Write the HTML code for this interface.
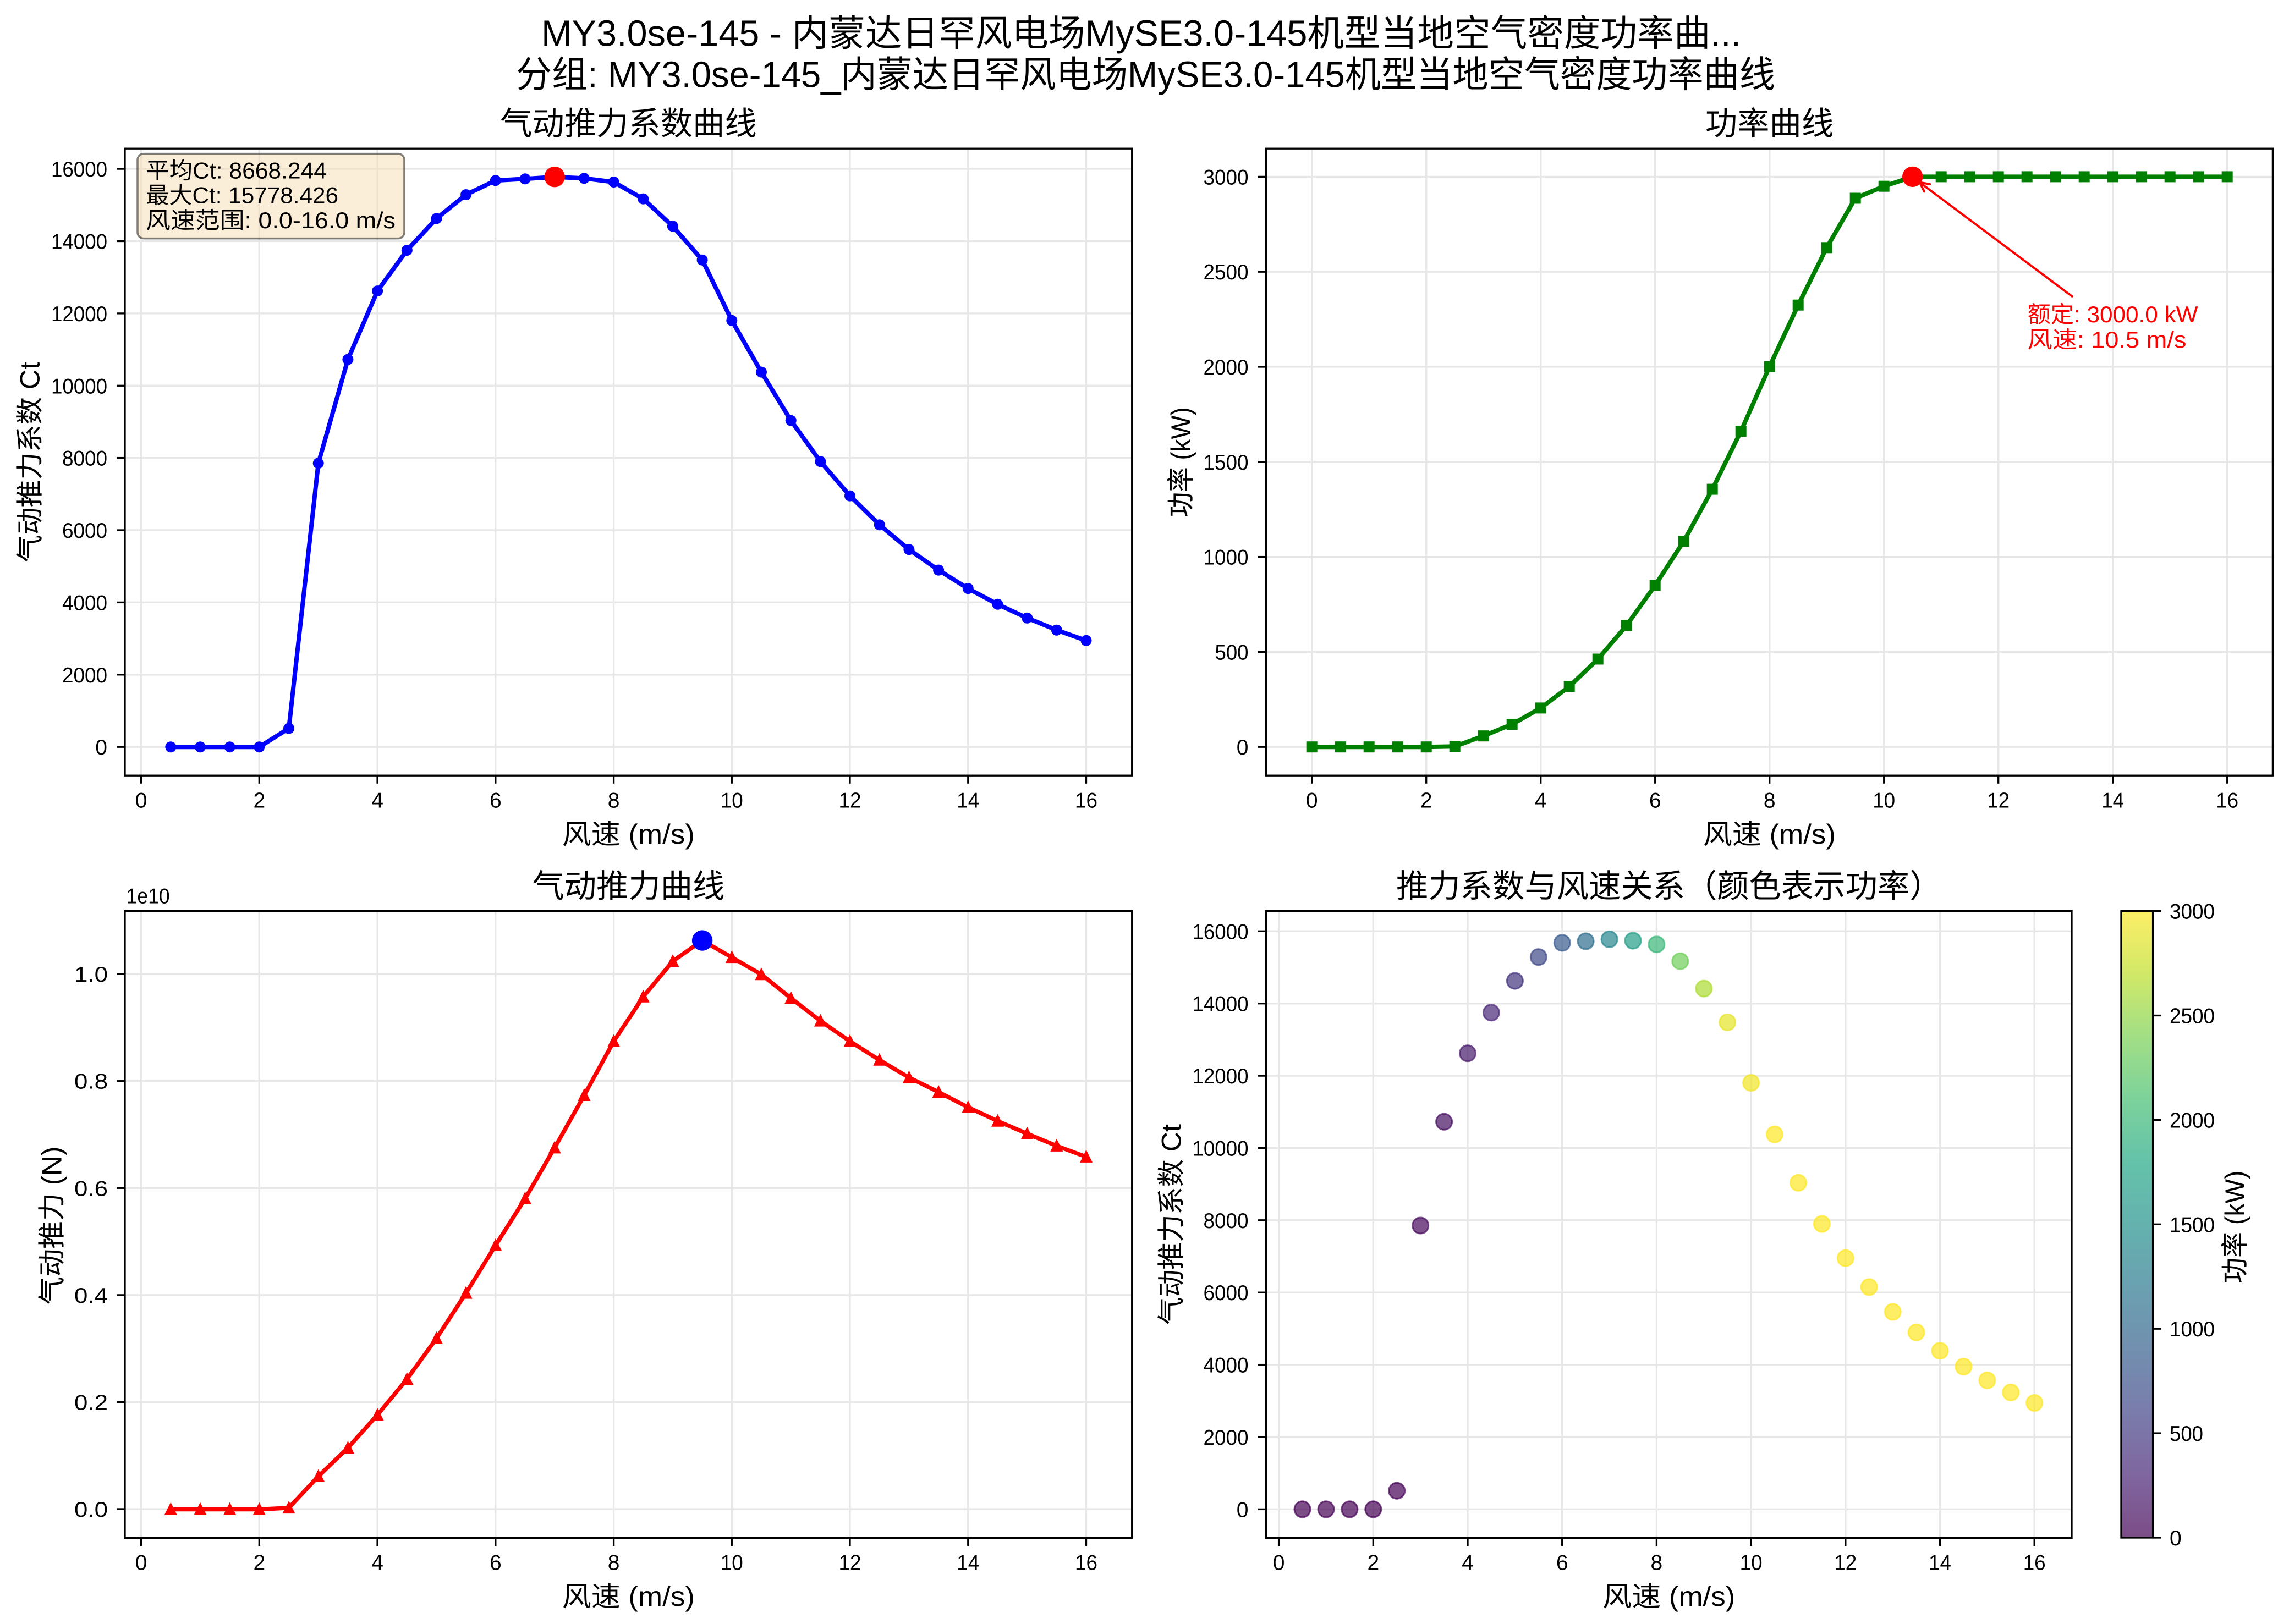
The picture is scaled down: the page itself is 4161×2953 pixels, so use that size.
<!DOCTYPE html>
<html><head><meta charset="utf-8">
<style>
html,body{margin:0;padding:0;background:#fff;}
svg{display:block;}
text{font-family:"Liberation Sans","WenQuanYi Zen Hei","Noto Sans CJK SC",sans-serif;fill:#000;}
.tk{font-size:39px;}
.lab{font-size:50px;}
.ttl{font-size:58.33px;}
.grid line{stroke:#e7e7e7;stroke-width:3.3;}
.tick line{stroke:#000;stroke-width:3.3;}
.spine{fill:none;stroke:#000;stroke-width:3.3;}
</style></head>
<body>
<svg xmlns="http://www.w3.org/2000/svg" xmlns:xlink="http://www.w3.org/1999/xlink" width="4161" height="2953" viewBox="0 0 4161 2953">
<defs>
<linearGradient id="vir" x1="0" y1="0" x2="0" y2="1">
<stop offset="0" stop-color="#fde725" stop-opacity="0.7"/>
<stop offset="0.1" stop-color="#bddf26" stop-opacity="0.7"/>
<stop offset="0.2" stop-color="#7ad151" stop-opacity="0.7"/>
<stop offset="0.3" stop-color="#44bf70" stop-opacity="0.7"/>
<stop offset="0.4" stop-color="#22a884" stop-opacity="0.7"/>
<stop offset="0.5" stop-color="#21918c" stop-opacity="0.7"/>
<stop offset="0.6" stop-color="#2a788e" stop-opacity="0.7"/>
<stop offset="0.7" stop-color="#355f8d" stop-opacity="0.7"/>
<stop offset="0.8" stop-color="#414487" stop-opacity="0.7"/>
<stop offset="0.9" stop-color="#482475" stop-opacity="0.7"/>
<stop offset="1" stop-color="#440154" stop-opacity="0.7"/>
</linearGradient>
<polygon id="tri" points="0,-8.3 -8.3,8.3 8.3,8.3" fill="#ff0000" stroke="#ff0000" stroke-width="4" stroke-linejoin="miter"/>
<rect id="sq" x="-10" y="-10" width="20" height="20" fill="#008000"/>
<circle id="bc" r="10" fill="#0000ff"/>
</defs>
<rect width="4161" height="2953" fill="#fff"/>

<!-- Suptitle -->
<text x="2074.5" y="83.3" font-size="66.67" text-anchor="middle" textLength="2181" lengthAdjust="spacingAndGlyphs">MY3.0se-145 - 内蒙达日罕风电场MySE3.0-145机型当地空气密度功率曲...</text>
<text x="2082.5" y="158.3" font-size="66.67" text-anchor="middle" textLength="2289" lengthAdjust="spacingAndGlyphs">分组: MY3.0se-145_内蒙达日罕风电场MySE3.0-145机型当地空气密度功率曲线</text>

<!-- ================= TOP LEFT ================= -->
<text class="ttl" x="1142.4" y="245" text-anchor="middle">气动推力系数曲线</text>
<g class="grid">
<line x1="256.6" y1="270.2" x2="256.6" y2="1410.2"/><line x1="471.3" y1="270.2" x2="471.3" y2="1410.2"/><line x1="686.1" y1="270.2" x2="686.1" y2="1410.2"/><line x1="900.8" y1="270.2" x2="900.8" y2="1410.2"/><line x1="1115.6" y1="270.2" x2="1115.6" y2="1410.2"/><line x1="1330.3" y1="270.2" x2="1330.3" y2="1410.2"/><line x1="1545" y1="270.2" x2="1545" y2="1410.2"/><line x1="1759.8" y1="270.2" x2="1759.8" y2="1410.2"/><line x1="1974.5" y1="270.2" x2="1974.5" y2="1410.2"/>
<line x1="227" y1="1358.2" x2="2057.7" y2="1358.2"/><line x1="227" y1="1226.8" x2="2057.7" y2="1226.8"/><line x1="227" y1="1095.4" x2="2057.7" y2="1095.4"/><line x1="227" y1="964" x2="2057.7" y2="964"/><line x1="227" y1="832.6" x2="2057.7" y2="832.6"/><line x1="227" y1="701.3" x2="2057.7" y2="701.3"/><line x1="227" y1="569.9" x2="2057.7" y2="569.9"/><line x1="227" y1="438.5" x2="2057.7" y2="438.5"/><line x1="227" y1="307.1" x2="2057.7" y2="307.1"/>
</g>
<polyline fill="none" stroke="#0000ff" stroke-width="8" stroke-linejoin="round" points="310.3,1358.2 364.0,1358.2 417.7,1358.2 471.3,1358.2 525.0,1324.5 578.7,842.3 632.4,653.6 686.1,529.1 739.8,455.1 793.5,397.4 847.1,354.0 900.8,328.2 954.5,325.3 1008.2,321.7 1061.9,324.3 1115.6,331.0 1169.2,361.6 1222.9,411.4 1276.6,472.7 1330.3,582.8 1384.0,676.6 1437.7,764.6 1491.4,839.3 1545.0,901.6 1598.7,954.2 1652.4,999.2 1706.1,1036.6 1759.8,1070.1 1813.5,1098.8 1867.2,1123.7 1920.8,1145.7 1974.5,1164.8"/>
<g>
<use xlink:href="#bc" x="310.3" y="1358.2"/><use xlink:href="#bc" x="364.0" y="1358.2"/><use xlink:href="#bc" x="417.7" y="1358.2"/><use xlink:href="#bc" x="471.3" y="1358.2"/><use xlink:href="#bc" x="525.0" y="1324.5"/><use xlink:href="#bc" x="578.7" y="842.3"/><use xlink:href="#bc" x="632.4" y="653.6"/><use xlink:href="#bc" x="686.1" y="529.1"/><use xlink:href="#bc" x="739.8" y="455.1"/><use xlink:href="#bc" x="793.5" y="397.4"/><use xlink:href="#bc" x="847.1" y="354.0"/><use xlink:href="#bc" x="900.8" y="328.2"/><use xlink:href="#bc" x="954.5" y="325.3"/><use xlink:href="#bc" x="1008.2" y="321.7"/><use xlink:href="#bc" x="1061.9" y="324.3"/><use xlink:href="#bc" x="1115.6" y="331.0"/><use xlink:href="#bc" x="1169.2" y="361.6"/><use xlink:href="#bc" x="1222.9" y="411.4"/><use xlink:href="#bc" x="1276.6" y="472.7"/><use xlink:href="#bc" x="1330.3" y="582.8"/><use xlink:href="#bc" x="1384.0" y="676.6"/><use xlink:href="#bc" x="1437.7" y="764.6"/><use xlink:href="#bc" x="1491.4" y="839.3"/><use xlink:href="#bc" x="1545.0" y="901.6"/><use xlink:href="#bc" x="1598.7" y="954.2"/><use xlink:href="#bc" x="1652.4" y="999.2"/><use xlink:href="#bc" x="1706.1" y="1036.6"/><use xlink:href="#bc" x="1759.8" y="1070.1"/><use xlink:href="#bc" x="1813.5" y="1098.8"/><use xlink:href="#bc" x="1867.2" y="1123.7"/><use xlink:href="#bc" x="1920.8" y="1145.7"/><use xlink:href="#bc" x="1974.5" y="1164.8"/>
</g>
<circle cx="1008.2" cy="321.7" r="18.7" fill="#ff0000"/>
<!-- text box -->
<rect x="250" y="279.6" width="485" height="154" rx="11" ry="11" fill="#f5deb3" fill-opacity="0.5" stroke="#000" stroke-opacity="0.5" stroke-width="3.5"/>
<text x="265" y="324.5" font-size="41.67" textLength="329" lengthAdjust="spacingAndGlyphs">平均Ct: 8668.244</text>
<text x="265" y="369.5" font-size="41.67" textLength="350" lengthAdjust="spacingAndGlyphs">最大Ct: 15778.426</text>
<text x="265" y="415" font-size="41.67" textLength="454" lengthAdjust="spacingAndGlyphs">风速范围: 0.0-16.0 m/s</text>
<rect class="spine" x="227" y="270.2" width="1830.7" height="1140"/>
<g class="tick">
<line x1="256.6" y1="1410.2" x2="256.6" y2="1424.8"/><line x1="471.3" y1="1410.2" x2="471.3" y2="1424.8"/><line x1="686.1" y1="1410.2" x2="686.1" y2="1424.8"/><line x1="900.8" y1="1410.2" x2="900.8" y2="1424.8"/><line x1="1115.6" y1="1410.2" x2="1115.6" y2="1424.8"/><line x1="1330.3" y1="1410.2" x2="1330.3" y2="1424.8"/><line x1="1545" y1="1410.2" x2="1545" y2="1424.8"/><line x1="1759.8" y1="1410.2" x2="1759.8" y2="1424.8"/><line x1="1974.5" y1="1410.2" x2="1974.5" y2="1424.8"/>
<line x1="212.4" y1="1358.2" x2="227" y2="1358.2"/><line x1="212.4" y1="1226.8" x2="227" y2="1226.8"/><line x1="212.4" y1="1095.4" x2="227" y2="1095.4"/><line x1="212.4" y1="964" x2="227" y2="964"/><line x1="212.4" y1="832.6" x2="227" y2="832.6"/><line x1="212.4" y1="701.3" x2="227" y2="701.3"/><line x1="212.4" y1="569.9" x2="227" y2="569.9"/><line x1="212.4" y1="438.5" x2="227" y2="438.5"/><line x1="212.4" y1="307.1" x2="227" y2="307.1"/>
</g>
<g class="tk" text-anchor="middle">
<text x="256.6" y="1468.5">0</text><text x="471.3" y="1468.5">2</text><text x="686.1" y="1468.5">4</text><text x="900.8" y="1468.5">6</text><text x="1115.6" y="1468.5">8</text><text x="1330.3" y="1468.5" textLength="41" lengthAdjust="spacingAndGlyphs">10</text><text x="1545" y="1468.5" textLength="41" lengthAdjust="spacingAndGlyphs">12</text><text x="1759.8" y="1468.5" textLength="41" lengthAdjust="spacingAndGlyphs">14</text><text x="1974.5" y="1468.5" textLength="41" lengthAdjust="spacingAndGlyphs">16</text>
</g>
<g class="tk" text-anchor="end">
<text x="195" y="1372.2">0</text><text x="195" y="1240.8" textLength="82" lengthAdjust="spacingAndGlyphs">2000</text><text x="195" y="1109.4" textLength="82" lengthAdjust="spacingAndGlyphs">4000</text><text x="195" y="978" textLength="82" lengthAdjust="spacingAndGlyphs">6000</text><text x="195" y="846.6" textLength="82" lengthAdjust="spacingAndGlyphs">8000</text><text x="195" y="715.3" textLength="102" lengthAdjust="spacingAndGlyphs">10000</text><text x="195" y="583.9" textLength="102" lengthAdjust="spacingAndGlyphs">12000</text><text x="195" y="452.5" textLength="102" lengthAdjust="spacingAndGlyphs">14000</text><text x="195" y="321.1" textLength="102" lengthAdjust="spacingAndGlyphs">16000</text>
</g>
<text class="lab" x="1142.4" y="1534" text-anchor="middle" textLength="241" lengthAdjust="spacingAndGlyphs">风速 (m/s)</text>
<text class="lab" transform="translate(71.4,840.3) rotate(-90)" text-anchor="middle" textLength="365" lengthAdjust="spacingAndGlyphs">气动推力系数 Ct</text>

<!-- ================= TOP RIGHT ================= -->
<text class="ttl" x="3216.5" y="245" text-anchor="middle">功率曲线</text>
<g class="grid">
<line x1="2384.7" y1="270.2" x2="2384.7" y2="1410.2"/><line x1="2592.7" y1="270.2" x2="2592.7" y2="1410.2"/><line x1="2800.7" y1="270.2" x2="2800.7" y2="1410.2"/><line x1="3008.7" y1="270.2" x2="3008.7" y2="1410.2"/><line x1="3216.7" y1="270.2" x2="3216.7" y2="1410.2"/><line x1="3424.7" y1="270.2" x2="3424.7" y2="1410.2"/><line x1="3632.7" y1="270.2" x2="3632.7" y2="1410.2"/><line x1="3840.7" y1="270.2" x2="3840.7" y2="1410.2"/><line x1="4048.7" y1="270.2" x2="4048.7" y2="1410.2"/>
<line x1="2301.5" y1="1358.2" x2="4131.4" y2="1358.2"/><line x1="2301.5" y1="1185.4" x2="4131.4" y2="1185.4"/><line x1="2301.5" y1="1012.6" x2="4131.4" y2="1012.6"/><line x1="2301.5" y1="839.8" x2="4131.4" y2="839.8"/><line x1="2301.5" y1="667" x2="4131.4" y2="667"/><line x1="2301.5" y1="494.2" x2="4131.4" y2="494.2"/><line x1="2301.5" y1="321.4" x2="4131.4" y2="321.4"/>
</g>
<polyline fill="none" stroke="#008000" stroke-width="8" stroke-linejoin="round" points="2384.7,1358.2 2436.7,1358.2 2488.7,1358.2 2540.7,1358.2 2592.7,1358.2 2644.7,1357.2 2696.7,1338.2 2748.7,1317.1 2800.7,1287.4 2852.7,1248.3 2904.7,1198.5 2956.7,1137.4 3008.7,1064.4 3060.7,984.3 3112.7,889.6 3164.7,784.2 3216.7,666.6 3268.7,554.7 3320.7,450.3 3372.7,360.5 3424.7,338.7 3476.7,321.4 3528.7,321.4 3580.7,321.4 3632.7,321.4 3684.7,321.4 3736.7,321.4 3788.7,321.4 3840.7,321.4 3892.7,321.4 3944.7,321.4 3996.7,321.4 4048.7,321.4"/>
<g>
<use xlink:href="#sq" x="2384.7" y="1358.2"/><use xlink:href="#sq" x="2436.7" y="1358.2"/><use xlink:href="#sq" x="2488.7" y="1358.2"/><use xlink:href="#sq" x="2540.7" y="1358.2"/><use xlink:href="#sq" x="2592.7" y="1358.2"/><use xlink:href="#sq" x="2644.7" y="1357.2"/><use xlink:href="#sq" x="2696.7" y="1338.2"/><use xlink:href="#sq" x="2748.7" y="1317.1"/><use xlink:href="#sq" x="2800.7" y="1287.4"/><use xlink:href="#sq" x="2852.7" y="1248.3"/><use xlink:href="#sq" x="2904.7" y="1198.5"/><use xlink:href="#sq" x="2956.7" y="1137.4"/><use xlink:href="#sq" x="3008.7" y="1064.4"/><use xlink:href="#sq" x="3060.7" y="984.3"/><use xlink:href="#sq" x="3112.7" y="889.6"/><use xlink:href="#sq" x="3164.7" y="784.2"/><use xlink:href="#sq" x="3216.7" y="666.6"/><use xlink:href="#sq" x="3268.7" y="554.7"/><use xlink:href="#sq" x="3320.7" y="450.3"/><use xlink:href="#sq" x="3372.7" y="360.5"/><use xlink:href="#sq" x="3424.7" y="338.7"/><use xlink:href="#sq" x="3476.7" y="321.4"/><use xlink:href="#sq" x="3528.7" y="321.4"/><use xlink:href="#sq" x="3580.7" y="321.4"/><use xlink:href="#sq" x="3632.7" y="321.4"/><use xlink:href="#sq" x="3684.7" y="321.4"/><use xlink:href="#sq" x="3736.7" y="321.4"/><use xlink:href="#sq" x="3788.7" y="321.4"/><use xlink:href="#sq" x="3840.7" y="321.4"/><use xlink:href="#sq" x="3892.7" y="321.4"/><use xlink:href="#sq" x="3944.7" y="321.4"/><use xlink:href="#sq" x="3996.7" y="321.4"/><use xlink:href="#sq" x="4048.7" y="321.4"/>
</g>
<circle cx="3476.7" cy="321.4" r="18.7" fill="#ff0000"/>
<!-- annotation -->
<g stroke="#ff0000" stroke-width="4" fill="none" stroke-linecap="round">
<line x1="3766.6" y1="538.8" x2="3489.6" y2="331.6"/>
<polyline points="3498,348.3 3489.6,331.6 3508,334.9"/>
</g>
<text x="3685.5" y="586.2" font-size="41.67" style="fill:#ff0000" textLength="310" lengthAdjust="spacingAndGlyphs">额定: 3000.0 kW</text>
<text x="3685.5" y="632.1" font-size="41.67" style="fill:#ff0000" textLength="289" lengthAdjust="spacingAndGlyphs">风速: 10.5 m/s</text>
<rect class="spine" x="2301.5" y="270.2" width="1829.9" height="1140"/>
<g class="tick">
<line x1="2384.7" y1="1410.2" x2="2384.7" y2="1424.8"/><line x1="2592.7" y1="1410.2" x2="2592.7" y2="1424.8"/><line x1="2800.7" y1="1410.2" x2="2800.7" y2="1424.8"/><line x1="3008.7" y1="1410.2" x2="3008.7" y2="1424.8"/><line x1="3216.7" y1="1410.2" x2="3216.7" y2="1424.8"/><line x1="3424.7" y1="1410.2" x2="3424.7" y2="1424.8"/><line x1="3632.7" y1="1410.2" x2="3632.7" y2="1424.8"/><line x1="3840.7" y1="1410.2" x2="3840.7" y2="1424.8"/><line x1="4048.7" y1="1410.2" x2="4048.7" y2="1424.8"/>
<line x1="2286.9" y1="1358.2" x2="2301.5" y2="1358.2"/><line x1="2286.9" y1="1185.4" x2="2301.5" y2="1185.4"/><line x1="2286.9" y1="1012.6" x2="2301.5" y2="1012.6"/><line x1="2286.9" y1="839.8" x2="2301.5" y2="839.8"/><line x1="2286.9" y1="667" x2="2301.5" y2="667"/><line x1="2286.9" y1="494.2" x2="2301.5" y2="494.2"/><line x1="2286.9" y1="321.4" x2="2301.5" y2="321.4"/>
</g>
<g class="tk" text-anchor="middle">
<text x="2384.7" y="1468.5">0</text><text x="2592.7" y="1468.5">2</text><text x="2800.7" y="1468.5">4</text><text x="3008.7" y="1468.5">6</text><text x="3216.7" y="1468.5">8</text><text x="3424.7" y="1468.5" textLength="41" lengthAdjust="spacingAndGlyphs">10</text><text x="3632.7" y="1468.5" textLength="41" lengthAdjust="spacingAndGlyphs">12</text><text x="3840.7" y="1468.5" textLength="41" lengthAdjust="spacingAndGlyphs">14</text><text x="4048.7" y="1468.5" textLength="41" lengthAdjust="spacingAndGlyphs">16</text>
</g>
<g class="tk" text-anchor="end">
<text x="2269.5" y="1372.2">0</text><text x="2269.5" y="1199.4" textLength="61" lengthAdjust="spacingAndGlyphs">500</text><text x="2269.5" y="1026.6" textLength="82" lengthAdjust="spacingAndGlyphs">1000</text><text x="2269.5" y="853.8" textLength="82" lengthAdjust="spacingAndGlyphs">1500</text><text x="2269.5" y="681" textLength="82" lengthAdjust="spacingAndGlyphs">2000</text><text x="2269.5" y="508.2" textLength="82" lengthAdjust="spacingAndGlyphs">2500</text><text x="2269.5" y="335.4" textLength="82" lengthAdjust="spacingAndGlyphs">3000</text>
</g>
<text class="lab" x="3216.5" y="1534" text-anchor="middle" textLength="241" lengthAdjust="spacingAndGlyphs">风速 (m/s)</text>
<text class="lab" transform="translate(2164,840.3) rotate(-90)" text-anchor="middle" textLength="200" lengthAdjust="spacingAndGlyphs">功率 (kW)</text>

<!-- ================= BOTTOM LEFT ================= -->
<text class="ttl" x="1142.4" y="1631.4" text-anchor="middle">气动推力曲线</text>
<g class="grid">
<line x1="256.6" y1="1656.6" x2="256.6" y2="2796.4"/><line x1="471.3" y1="1656.6" x2="471.3" y2="2796.4"/><line x1="686.1" y1="1656.6" x2="686.1" y2="2796.4"/><line x1="900.8" y1="1656.6" x2="900.8" y2="2796.4"/><line x1="1115.6" y1="1656.6" x2="1115.6" y2="2796.4"/><line x1="1330.3" y1="1656.6" x2="1330.3" y2="2796.4"/><line x1="1545" y1="1656.6" x2="1545" y2="2796.4"/><line x1="1759.8" y1="1656.6" x2="1759.8" y2="2796.4"/><line x1="1974.5" y1="1656.6" x2="1974.5" y2="2796.4"/>
<line x1="227" y1="2744" x2="2057.7" y2="2744"/><line x1="227" y1="2549.4" x2="2057.7" y2="2549.4"/><line x1="227" y1="2354.9" x2="2057.7" y2="2354.9"/><line x1="227" y1="2160.3" x2="2057.7" y2="2160.3"/><line x1="227" y1="1965.7" x2="2057.7" y2="1965.7"/><line x1="227" y1="1771.1" x2="2057.7" y2="1771.1"/>
</g>
<polyline fill="none" stroke="#ff0000" stroke-width="7.5" stroke-linejoin="round" points="310.3,2744.5 364.0,2744.5 417.7,2744.5 471.3,2744.5 525.0,2741.8 578.7,2684.4 632.4,2632.7 686.1,2572.8 739.8,2507.7 793.5,2433.6 847.1,2351.3 900.8,2264.6 954.5,2179.6 1008.2,2087.1 1061.9,1991.7 1115.6,1893.6 1169.2,1812.5 1222.9,1747.8 1276.6,1710.1 1330.3,1740.8 1384.0,1771.9 1437.7,1814.9 1491.4,1856.3 1545.0,1893.4 1598.7,1927.5 1652.4,1959.3 1706.1,1985.8 1759.8,2013.5 1813.5,2038.4 1867.2,2061.5 1920.8,2083.6 1974.5,2103.6"/>
<g>
<use xlink:href="#tri" x="310.3" y="2744.5"/><use xlink:href="#tri" x="364.0" y="2744.5"/><use xlink:href="#tri" x="417.7" y="2744.5"/><use xlink:href="#tri" x="471.3" y="2744.5"/><use xlink:href="#tri" x="525.0" y="2741.8"/><use xlink:href="#tri" x="578.7" y="2684.4"/><use xlink:href="#tri" x="632.4" y="2632.7"/><use xlink:href="#tri" x="686.1" y="2572.8"/><use xlink:href="#tri" x="739.8" y="2507.7"/><use xlink:href="#tri" x="793.5" y="2433.6"/><use xlink:href="#tri" x="847.1" y="2351.3"/><use xlink:href="#tri" x="900.8" y="2264.6"/><use xlink:href="#tri" x="954.5" y="2179.6"/><use xlink:href="#tri" x="1008.2" y="2087.1"/><use xlink:href="#tri" x="1061.9" y="1991.7"/><use xlink:href="#tri" x="1115.6" y="1893.6"/><use xlink:href="#tri" x="1169.2" y="1812.5"/><use xlink:href="#tri" x="1222.9" y="1747.8"/><use xlink:href="#tri" x="1276.6" y="1710.1"/><use xlink:href="#tri" x="1330.3" y="1740.8"/><use xlink:href="#tri" x="1384.0" y="1771.9"/><use xlink:href="#tri" x="1437.7" y="1814.9"/><use xlink:href="#tri" x="1491.4" y="1856.3"/><use xlink:href="#tri" x="1545.0" y="1893.4"/><use xlink:href="#tri" x="1598.7" y="1927.5"/><use xlink:href="#tri" x="1652.4" y="1959.3"/><use xlink:href="#tri" x="1706.1" y="1985.8"/><use xlink:href="#tri" x="1759.8" y="2013.5"/><use xlink:href="#tri" x="1813.5" y="2038.4"/><use xlink:href="#tri" x="1867.2" y="2061.5"/><use xlink:href="#tri" x="1920.8" y="2083.6"/><use xlink:href="#tri" x="1974.5" y="2103.6"/>
</g>
<circle cx="1276.6" cy="1710.1" r="18.7" fill="#0000ff"/>
<rect class="spine" x="227" y="1656.6" width="1830.7" height="1139.8"/>
<g class="tick">
<line x1="256.6" y1="2796.4" x2="256.6" y2="2811"/><line x1="471.3" y1="2796.4" x2="471.3" y2="2811"/><line x1="686.1" y1="2796.4" x2="686.1" y2="2811"/><line x1="900.8" y1="2796.4" x2="900.8" y2="2811"/><line x1="1115.6" y1="2796.4" x2="1115.6" y2="2811"/><line x1="1330.3" y1="2796.4" x2="1330.3" y2="2811"/><line x1="1545" y1="2796.4" x2="1545" y2="2811"/><line x1="1759.8" y1="2796.4" x2="1759.8" y2="2811"/><line x1="1974.5" y1="2796.4" x2="1974.5" y2="2811"/>
<line x1="212.4" y1="2744" x2="227" y2="2744"/><line x1="212.4" y1="2549.4" x2="227" y2="2549.4"/><line x1="212.4" y1="2354.9" x2="227" y2="2354.9"/><line x1="212.4" y1="2160.3" x2="227" y2="2160.3"/><line x1="212.4" y1="1965.7" x2="227" y2="1965.7"/><line x1="212.4" y1="1771.1" x2="227" y2="1771.1"/>
</g>
<g class="tk" text-anchor="middle">
<text x="256.6" y="2854.5">0</text><text x="471.3" y="2854.5">2</text><text x="686.1" y="2854.5">4</text><text x="900.8" y="2854.5">6</text><text x="1115.6" y="2854.5">8</text><text x="1330.3" y="2854.5" textLength="41" lengthAdjust="spacingAndGlyphs">10</text><text x="1545" y="2854.5" textLength="41" lengthAdjust="spacingAndGlyphs">12</text><text x="1759.8" y="2854.5" textLength="41" lengthAdjust="spacingAndGlyphs">14</text><text x="1974.5" y="2854.5" textLength="41" lengthAdjust="spacingAndGlyphs">16</text>
</g>
<g class="tk" text-anchor="end">
<text x="196" y="2758" textLength="61" lengthAdjust="spacingAndGlyphs">0.0</text><text x="196" y="2563.4" textLength="61" lengthAdjust="spacingAndGlyphs">0.2</text><text x="196" y="2368.9" textLength="61" lengthAdjust="spacingAndGlyphs">0.4</text><text x="196" y="2174.3" textLength="61" lengthAdjust="spacingAndGlyphs">0.6</text><text x="196" y="1979.7" textLength="61" lengthAdjust="spacingAndGlyphs">0.8</text><text x="196" y="1785.1" textLength="61" lengthAdjust="spacingAndGlyphs">1.0</text>
</g>
<text class="tk" x="229.6" y="1642.3" textLength="79" lengthAdjust="spacingAndGlyphs">1e10</text>
<text class="lab" x="1142.4" y="2920" text-anchor="middle" textLength="241" lengthAdjust="spacingAndGlyphs">风速 (m/s)</text>
<text class="lab" transform="translate(111.5,2228.5) rotate(-90)" text-anchor="middle" textLength="288" lengthAdjust="spacingAndGlyphs">气动推力 (N)</text>

<!-- ================= BOTTOM RIGHT ================= -->
<text class="ttl" x="3033.8" y="1631.4" text-anchor="middle">推力系数与风速关系（颜色表示功率）</text>
<g class="grid">
<line x1="2324.6" y1="1656.6" x2="2324.6" y2="2796.4"/><line x1="2496.3" y1="1656.6" x2="2496.3" y2="2796.4"/><line x1="2668" y1="1656.6" x2="2668" y2="2796.4"/><line x1="2839.7" y1="1656.6" x2="2839.7" y2="2796.4"/><line x1="3011.4" y1="1656.6" x2="3011.4" y2="2796.4"/><line x1="3183.1" y1="1656.6" x2="3183.1" y2="2796.4"/><line x1="3354.8" y1="1656.6" x2="3354.8" y2="2796.4"/><line x1="3526.5" y1="1656.6" x2="3526.5" y2="2796.4"/><line x1="3698.2" y1="1656.6" x2="3698.2" y2="2796.4"/>
<line x1="2301.5" y1="2744.4" x2="3766" y2="2744.4"/><line x1="2301.5" y1="2613" x2="3766" y2="2613"/><line x1="2301.5" y1="2481.6" x2="3766" y2="2481.6"/><line x1="2301.5" y1="2350.2" x2="3766" y2="2350.2"/><line x1="2301.5" y1="2218.8" x2="3766" y2="2218.8"/><line x1="2301.5" y1="2087.5" x2="3766" y2="2087.5"/><line x1="2301.5" y1="1956.1" x2="3766" y2="1956.1"/><line x1="2301.5" y1="1824.7" x2="3766" y2="1824.7"/><line x1="2301.5" y1="1693.3" x2="3766" y2="1693.3"/>
</g>
<g fill-opacity="0.7" stroke-opacity="0.7" stroke-width="3">
<circle cx="2367.5" cy="2744.4" r="14.5" fill="#440154" stroke="#440154"/>
<circle cx="2410.5" cy="2744.4" r="14.5" fill="#440154" stroke="#440154"/>
<circle cx="2453.4" cy="2744.4" r="14.5" fill="#440154" stroke="#440154"/>
<circle cx="2496.3" cy="2744.4" r="14.5" fill="#440154" stroke="#440154"/>
<circle cx="2539.2" cy="2710.7" r="14.5" fill="#440155" stroke="#440155"/>
<circle cx="2582.2" cy="2228.5" r="14.5" fill="#46085c" stroke="#46085c"/>
<circle cx="2625.1" cy="2039.8" r="14.5" fill="#460f61" stroke="#460f61"/>
<circle cx="2668.0" cy="1915.3" r="14.5" fill="#47196a" stroke="#47196a"/>
<circle cx="2710.9" cy="1841.3" r="14.5" fill="#482676" stroke="#482676"/>
<circle cx="2753.9" cy="1783.6" r="14.5" fill="#44357f" stroke="#44357f"/>
<circle cx="2796.8" cy="1740.2" r="14.5" fill="#3f4888" stroke="#3f4888"/>
<circle cx="2839.7" cy="1714.4" r="14.5" fill="#375a8c" stroke="#375a8c"/>
<circle cx="2882.6" cy="1711.5" r="14.5" fill="#2e6e8e" stroke="#2e6e8e"/>
<circle cx="2925.6" cy="1707.9" r="14.5" fill="#25858d" stroke="#25858d"/>
<circle cx="2968.5" cy="1710.5" r="14.5" fill="#229d88" stroke="#229d88"/>
<circle cx="3011.4" cy="1717.2" r="14.5" fill="#39b777" stroke="#39b777"/>
<circle cx="3054.3" cy="1747.8" r="14.5" fill="#6dcd59" stroke="#6dcd59"/>
<circle cx="3097.3" cy="1797.6" r="14.5" fill="#addc30" stroke="#addc30"/>
<circle cx="3140.2" cy="1858.9" r="14.5" fill="#e5e425" stroke="#e5e425"/>
<circle cx="3183.1" cy="1969.0" r="14.5" fill="#f2e625" stroke="#f2e625"/>
<circle cx="3226.0" cy="2062.8" r="14.5" fill="#fde725" stroke="#fde725"/>
<circle cx="3269.0" cy="2150.8" r="14.5" fill="#fde725" stroke="#fde725"/>
<circle cx="3311.9" cy="2225.5" r="14.5" fill="#fde725" stroke="#fde725"/>
<circle cx="3354.8" cy="2287.8" r="14.5" fill="#fde725" stroke="#fde725"/>
<circle cx="3397.7" cy="2340.4" r="14.5" fill="#fde725" stroke="#fde725"/>
<circle cx="3440.7" cy="2385.4" r="14.5" fill="#fde725" stroke="#fde725"/>
<circle cx="3483.6" cy="2422.8" r="14.5" fill="#fde725" stroke="#fde725"/>
<circle cx="3526.5" cy="2456.3" r="14.5" fill="#fde725" stroke="#fde725"/>
<circle cx="3569.4" cy="2485.0" r="14.5" fill="#fde725" stroke="#fde725"/>
<circle cx="3612.4" cy="2509.9" r="14.5" fill="#fde725" stroke="#fde725"/>
<circle cx="3655.3" cy="2531.9" r="14.5" fill="#fde725" stroke="#fde725"/>
<circle cx="3698.2" cy="2551.0" r="14.5" fill="#fde725" stroke="#fde725"/>
</g>
<rect class="spine" x="2301.5" y="1656.6" width="1464.5" height="1139.8"/>
<g class="tick">
<line x1="2324.6" y1="2796.4" x2="2324.6" y2="2811"/><line x1="2496.3" y1="2796.4" x2="2496.3" y2="2811"/><line x1="2668" y1="2796.4" x2="2668" y2="2811"/><line x1="2839.7" y1="2796.4" x2="2839.7" y2="2811"/><line x1="3011.4" y1="2796.4" x2="3011.4" y2="2811"/><line x1="3183.1" y1="2796.4" x2="3183.1" y2="2811"/><line x1="3354.8" y1="2796.4" x2="3354.8" y2="2811"/><line x1="3526.5" y1="2796.4" x2="3526.5" y2="2811"/><line x1="3698.2" y1="2796.4" x2="3698.2" y2="2811"/>
<line x1="2286.9" y1="2744.4" x2="2301.5" y2="2744.4"/><line x1="2286.9" y1="2613" x2="2301.5" y2="2613"/><line x1="2286.9" y1="2481.6" x2="2301.5" y2="2481.6"/><line x1="2286.9" y1="2350.2" x2="2301.5" y2="2350.2"/><line x1="2286.9" y1="2218.8" x2="2301.5" y2="2218.8"/><line x1="2286.9" y1="2087.5" x2="2301.5" y2="2087.5"/><line x1="2286.9" y1="1956.1" x2="2301.5" y2="1956.1"/><line x1="2286.9" y1="1824.7" x2="2301.5" y2="1824.7"/><line x1="2286.9" y1="1693.3" x2="2301.5" y2="1693.3"/>
</g>
<g class="tk" text-anchor="middle">
<text x="2324.6" y="2854.5">0</text><text x="2496.3" y="2854.5">2</text><text x="2668" y="2854.5">4</text><text x="2839.7" y="2854.5">6</text><text x="3011.4" y="2854.5">8</text><text x="3183.1" y="2854.5" textLength="41" lengthAdjust="spacingAndGlyphs">10</text><text x="3354.8" y="2854.5" textLength="41" lengthAdjust="spacingAndGlyphs">12</text><text x="3526.5" y="2854.5" textLength="41" lengthAdjust="spacingAndGlyphs">14</text><text x="3698.2" y="2854.5" textLength="41" lengthAdjust="spacingAndGlyphs">16</text>
</g>
<g class="tk" text-anchor="end">
<text x="2269.5" y="2758.4">0</text><text x="2269.5" y="2627" textLength="82" lengthAdjust="spacingAndGlyphs">2000</text><text x="2269.5" y="2495.6" textLength="82" lengthAdjust="spacingAndGlyphs">4000</text><text x="2269.5" y="2364.2" textLength="82" lengthAdjust="spacingAndGlyphs">6000</text><text x="2269.5" y="2232.8" textLength="82" lengthAdjust="spacingAndGlyphs">8000</text><text x="2269.5" y="2101.5" textLength="102" lengthAdjust="spacingAndGlyphs">10000</text><text x="2269.5" y="1970.1" textLength="102" lengthAdjust="spacingAndGlyphs">12000</text><text x="2269.5" y="1838.7" textLength="102" lengthAdjust="spacingAndGlyphs">14000</text><text x="2269.5" y="1707.3" textLength="102" lengthAdjust="spacingAndGlyphs">16000</text>
</g>
<text class="lab" x="3033.8" y="2920" text-anchor="middle" textLength="241" lengthAdjust="spacingAndGlyphs">风速 (m/s)</text>
<text class="lab" transform="translate(2146.5,2226.5) rotate(-90)" text-anchor="middle" textLength="365" lengthAdjust="spacingAndGlyphs">气动推力系数 Ct</text>

<!-- colorbar -->
<rect x="3856" y="1656.6" width="57.6" height="1139.4" fill="url(#vir)"/>
<rect class="spine" x="3856" y="1656.6" width="57.6" height="1139.4"/>
<g class="tick">
<line x1="3913.6" y1="2796" x2="3928.2" y2="2796"/><line x1="3913.6" y1="2606.1" x2="3928.2" y2="2606.1"/><line x1="3913.6" y1="2416.2" x2="3928.2" y2="2416.2"/><line x1="3913.6" y1="2226.3" x2="3928.2" y2="2226.3"/><line x1="3913.6" y1="2036.4" x2="3928.2" y2="2036.4"/><line x1="3913.6" y1="1846.5" x2="3928.2" y2="1846.5"/><line x1="3913.6" y1="1656.6" x2="3928.2" y2="1656.6"/>
</g>
<g class="tk">
<text x="3944" y="2810">0</text><text x="3944" y="2620.1" textLength="61" lengthAdjust="spacingAndGlyphs">500</text><text x="3944" y="2430.2" textLength="82" lengthAdjust="spacingAndGlyphs">1000</text><text x="3944" y="2240.3" textLength="82" lengthAdjust="spacingAndGlyphs">1500</text><text x="3944" y="2050.4" textLength="82" lengthAdjust="spacingAndGlyphs">2000</text><text x="3944" y="1860.5" textLength="82" lengthAdjust="spacingAndGlyphs">2500</text><text x="3944" y="1670.6" textLength="82" lengthAdjust="spacingAndGlyphs">3000</text>
</g>
<text class="lab" transform="translate(4080,2231) rotate(-90)" text-anchor="middle" textLength="205" lengthAdjust="spacingAndGlyphs">功率 (kW)</text>
</svg>
</body></html>
